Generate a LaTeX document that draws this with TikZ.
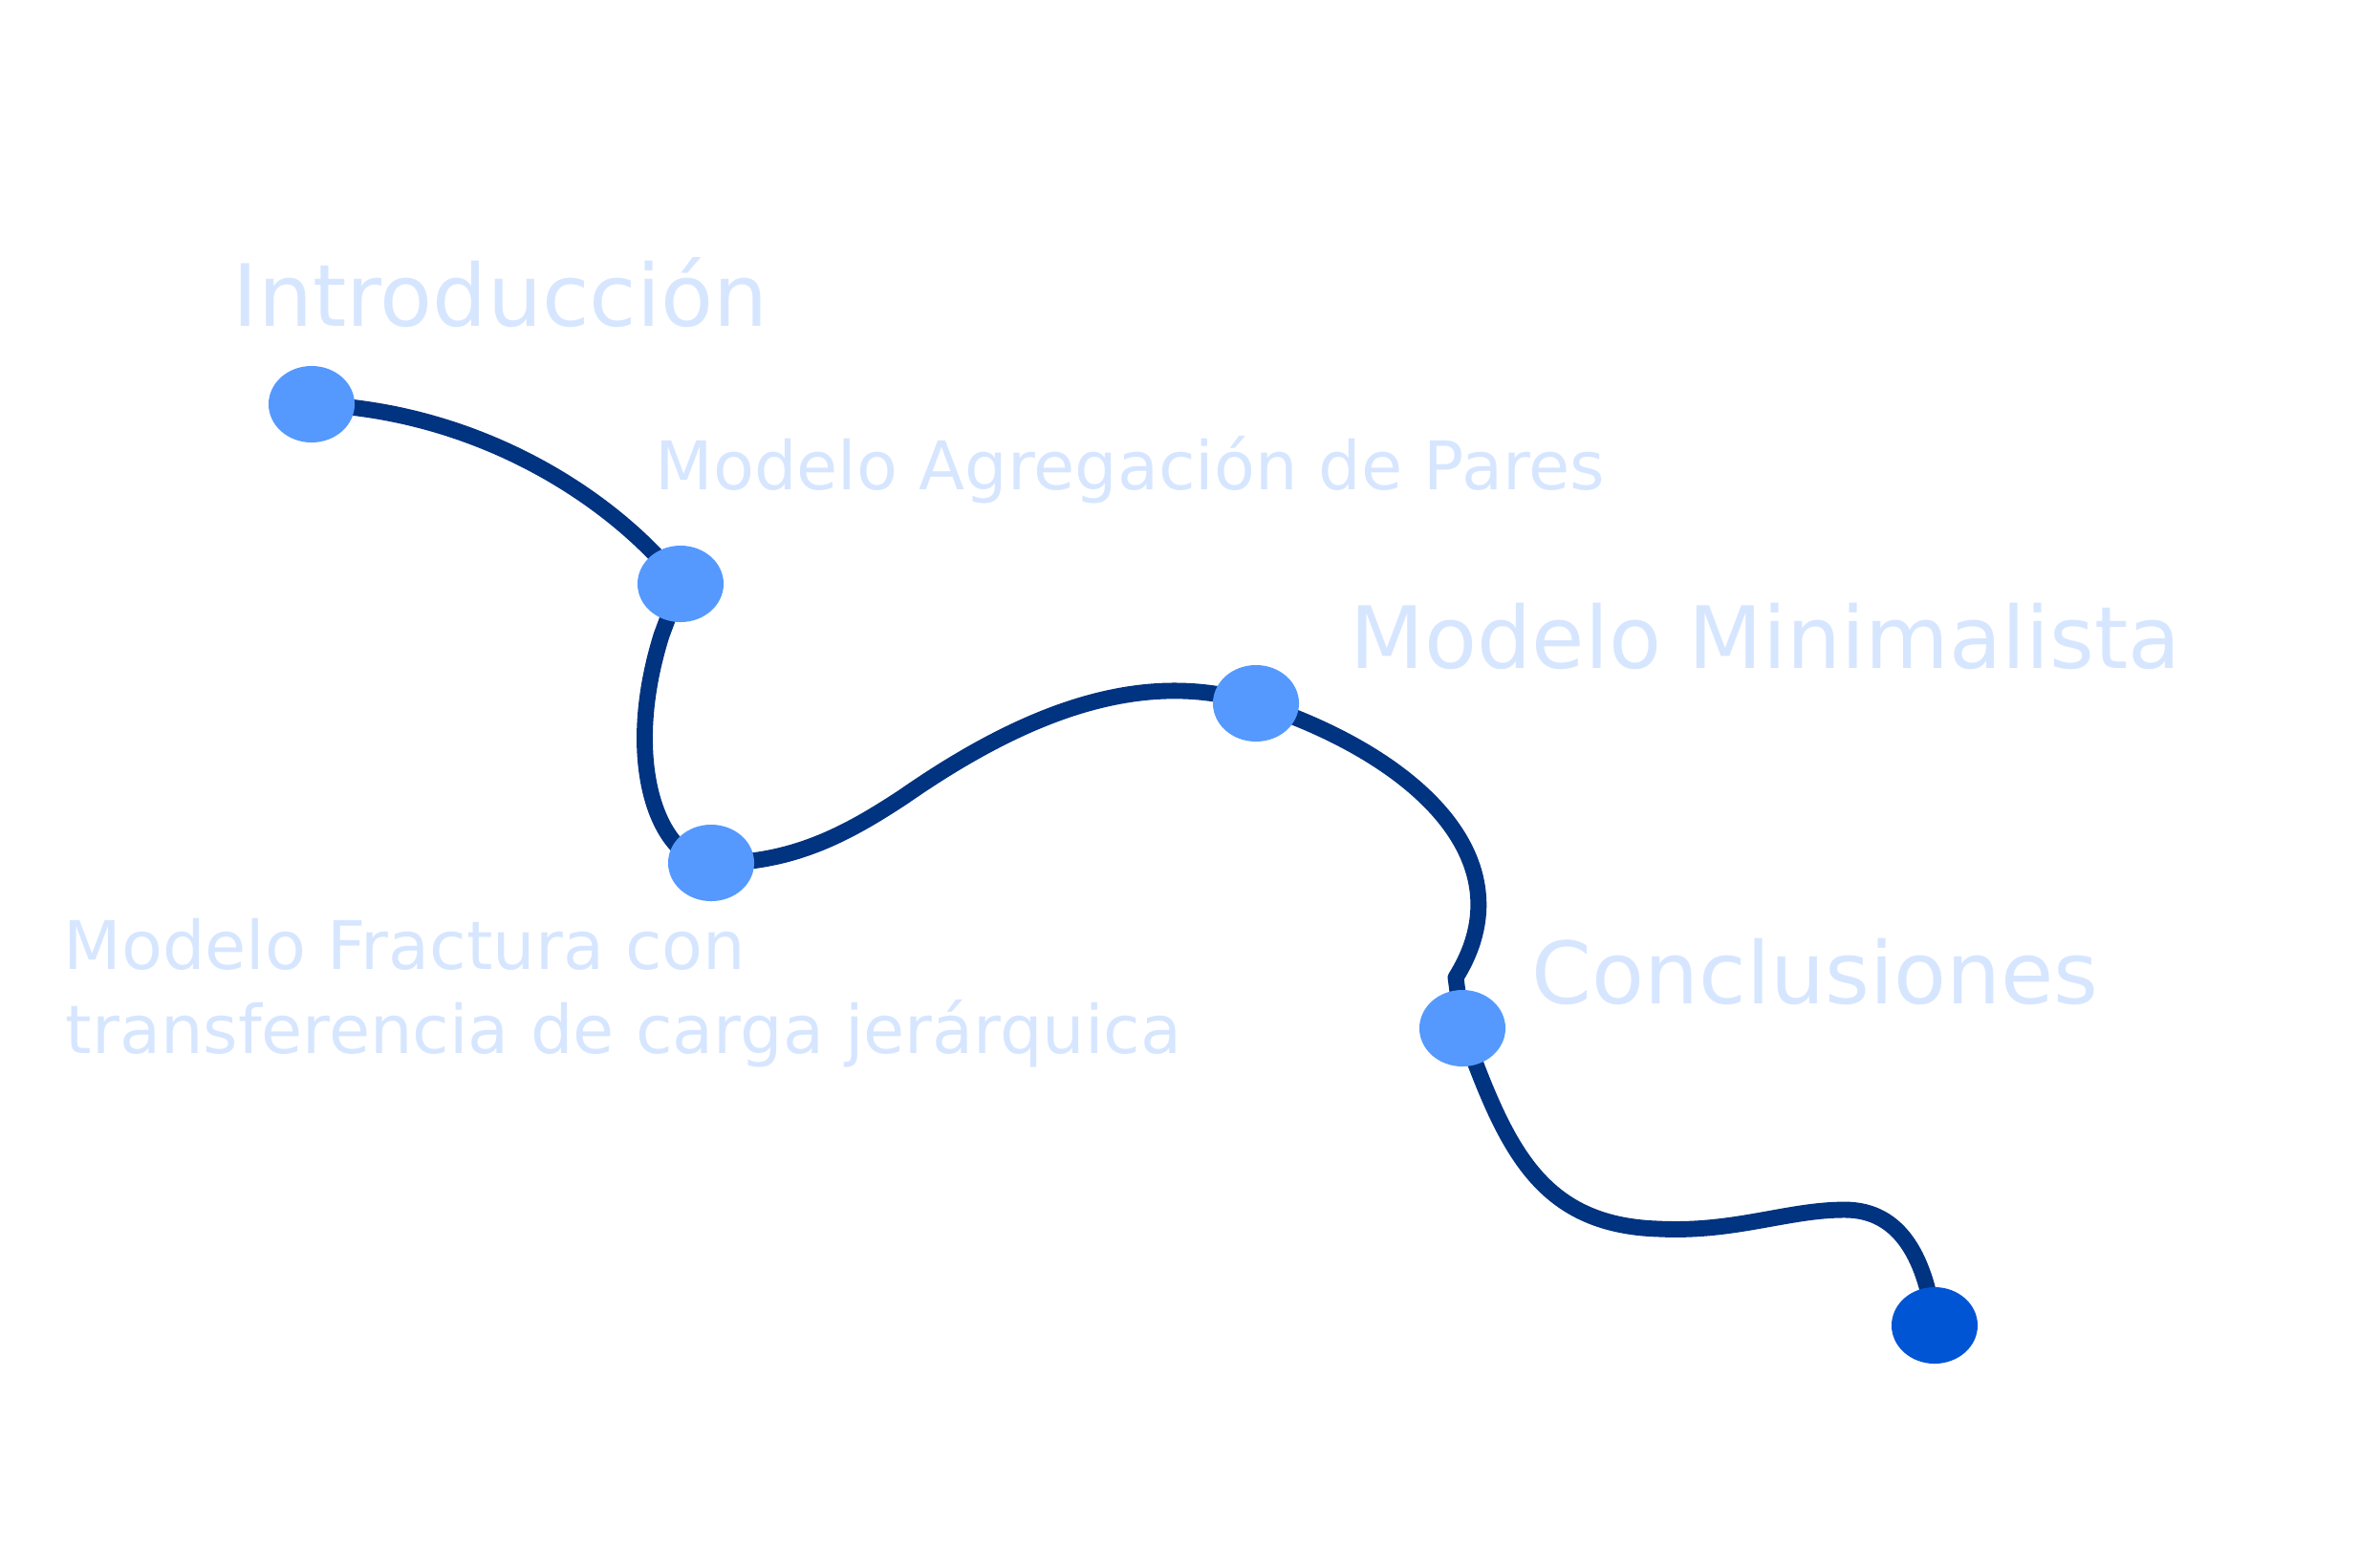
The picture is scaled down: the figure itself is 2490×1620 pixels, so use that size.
\documentclass[tikz,border=0pt]{standalone}
\usepackage{fontspec}
\newfontfamily\labfont{DejaVu Sans}
\usetikzlibrary{shapes.geometric}
\definecolor{trackcol}{HTML}{003380}
\definecolor{dotcol}{HTML}{5599FF}
\definecolor{endcol}{HTML}{0055D4}
\definecolor{labcol}{HTML}{D7E6FF}
\pgfdeclarelayer{bg}
\pgfsetlayers{bg,main}
\tikzset{
  dot/.style={ellipse, fill=dotcol, draw=none, minimum width=0.9cm, minimum height=0.8cm, inner sep=0pt},
  enddot/.style={dot, fill=endcol},
  track/.style={draw=trackcol, line width=4.8pt, line join=round, line cap=round},
  biglab/.style={anchor=base west, inner sep=0pt, text=labcol, font=\labfont\fontsize{25.6pt}{30pt}\selectfont},
  smalllab/.style={anchor=base west, inner sep=0pt, text=labcol, font=\labfont\fontsize{19.95pt}{25pt}\selectfont}
}
\begin{document}
\begin{tikzpicture}[x=0.01cm, y=-0.01cm]
\useasboundingbox (0,0) rectangle (2490,1620);
% markers
\node[dot] (n1) at (326,423) {};
\node[dot] (n2) at (712,611) {};
\node[dot] (n3) at (744,903) {};
\node[dot] (n4) at (1314,736) {};
\node[dot] (n5) at (1530,1076) {};
\node[enddot] (n6) at (2024,1387) {};
% bends
\coordinate (k1) at (692,665);
\coordinate (k2) at (945,834);
\coordinate (k3) at (1523,1023);
\coordinate (m1) at (1735,1286);
\coordinate (m2) at (1930,1266);
\begin{pgfonlayer}{bg}
\draw[track] (n1.center) .. controls (510,430) and (650,530) .. (n2.center)
  -- (k1)
  .. controls (650,800) and (690,900) .. (n3.center)
  .. controls (830,905) and (890,870) .. (k2)
  .. controls (1080,740) and (1200,700) .. (n4.center)
  .. controls (1480,790) and (1600,900) .. (k3)
  -- (n5.center)
  .. controls (1575,1200) and (1610,1282) .. (m1)
  .. controls (1815,1290) and (1870,1266) .. (m2)
  .. controls (1990,1266) and (2015,1320) .. (n6.center);
\end{pgfonlayer}
% labels
\node[biglab] (t1) at (243,341) {Introducción};
\node[smalllab] (t2) at (685,512) {Modelo Agregación de Pares};
\node[biglab] (t4) at (1412,699) {Modelo Minimalista};
\node[smalllab] (t3a) at (66,1014) {Modelo Fractura con};
\node[smalllab] (t3b) at (68,1102) {transferencia de carga jerárquica};
\node[biglab] (t5) at (1602,1050) {Conclusiones};
\end{tikzpicture}
\end{document}
